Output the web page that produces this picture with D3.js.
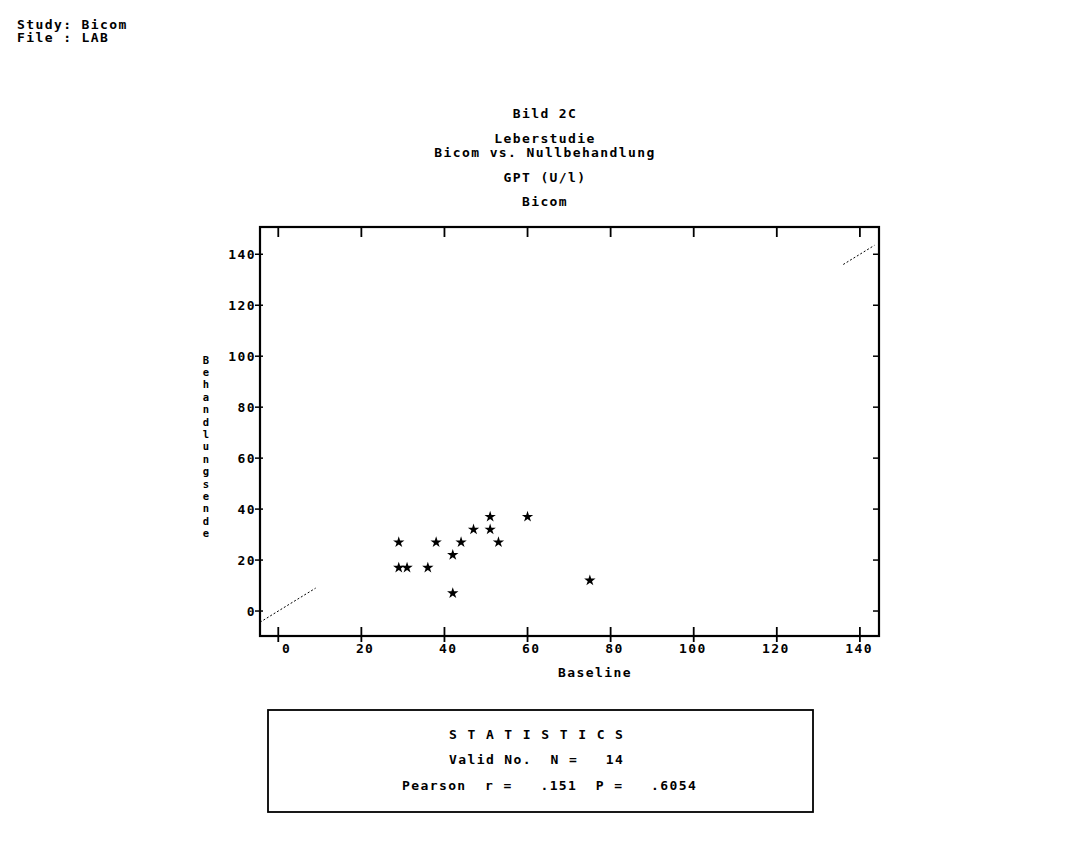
<!DOCTYPE html>
<html><head><meta charset="utf-8">
<script src="https://cdn.jsdelivr.net/npm/d3@7/dist/d3.min.js"></script>
<style>
html,body{margin:0;padding:0;background:#fff;}
svg text{font-family:"DejaVu Sans Mono",monospace;font-size:13px;letter-spacing:1.4px;fill:#000;white-space:pre;font-weight:bold;}
svg text.ylab{font-size:10.5px;letter-spacing:0;}
</style></head>
<body>
<svg id="c" width="1071" height="865"></svg>
<script>
// ---- data ----
const headerLines = ["Study: Bicom", "File : LAB"];
const titleLines = ["Bild 2C", "Leberstudie", "Bicom vs. Nullbehandlung", "GPT (U/l)", "Bicom"];
const xLabel = "Baseline";
const yLabel = "Behandlungsende";
const baseline = [29, 38, 44, 53, 51, 60, 47, 51, 42, 29, 31, 36, 42, 75];
const behandlungsende = [27, 27, 27, 27, 37, 37, 32, 32, 22, 17, 17, 17, 7, 12];
const xTicks = [0, 20, 40, 60, 80, 100, 120, 140];
const yTicks = [0, 20, 40, 60, 80, 100, 120, 140];
const identitySegments = [[-4.4, 9], [136, 143.5]];
const statsLines = ["S T A T I S T I C S", "Valid No.  N =   14", "Pearson  r =   .151  P =   .6054"];

// ---- layout ----
const svg = d3.select("#c");
const L = 260, R = 879, T = 227, B = 636;
const x = d3.scaleLinear().domain([-4.4, 144.6]).range([L, R]);
const y = d3.scaleLinear().domain([-9.8, 150.7]).range([B, T]);

// header
svg.selectAll("text.hdr").data(headerLines).join("text")
  .attr("class", "hdr").attr("x", 17).attr("y", (d, i) => 29 + i * 13).text(d => d);

// titles
const titleY = [118, 143, 157, 182, 206];
svg.selectAll("text.ttl").data(titleLines).join("text")
  .attr("class", "ttl").attr("x", 545).attr("y", (d, i) => titleY[i])
  .attr("text-anchor", "middle").text(d => d);

// frame
const g = svg.append("g");
g.append("rect").attr("x", L).attr("y", T).attr("width", R - L).attr("height", B - T)
  .attr("fill", "none").attr("stroke", "#000").attr("stroke-width", 2.2);

// bottom axis ticks
g.selectAll("line.xb").data(xTicks).join("line")
  .attr("x1", d => x(d)).attr("x2", d => x(d)).attr("y1", B - 9).attr("y2", B + 6)
  .attr("stroke", "#000").attr("stroke-width", 1.8);
// top axis ticks
g.selectAll("line.xt").data(xTicks).join("line")
  .attr("x1", d => x(d)).attr("x2", d => x(d)).attr("y1", T).attr("y2", T + 10)
  .attr("stroke", "#000").attr("stroke-width", 1.8);
// x labels (right-aligned slightly right of tick)
g.selectAll("text.xl").data(xTicks).join("text")
  .attr("x", d => x(d) + 13).attr("y", B + 17).attr("text-anchor", "end").text(d => d);

// left axis ticks
g.selectAll("line.yl").data(yTicks).join("line")
  .attr("x1", L - 5).attr("x2", L + 3).attr("y1", d => y(d)).attr("y2", d => y(d))
  .attr("stroke", "#000").attr("stroke-width", 1.5);
// right axis ticks
g.selectAll("line.yr").data(yTicks).join("line")
  .attr("x1", R - 6).attr("x2", R).attr("y1", d => y(d)).attr("y2", d => y(d))
  .attr("stroke", "#000").attr("stroke-width", 1.5);
g.selectAll("text.yt").data(yTicks).join("text")
  .attr("x", L - 4).attr("y", d => y(d) + 5).attr("text-anchor", "end").text(d => d);

// axis titles
svg.append("text").attr("x", 595).attr("y", 677).attr("text-anchor", "middle").text(xLabel);
const yl = svg.append("text").attr("class", "ylab").attr("text-anchor", "middle");
yl.selectAll("tspan").data(yLabel.split("")).join("tspan")
  .attr("x", 206).attr("y", (d, i) => 363.5 + i * 12.4).text(d => d);

// identity line segments
const line = d3.line().x(d => x(d)).y(d => y(d));
g.selectAll("path.id").data(identitySegments).join("path")
  .attr("d", d => line(d)).attr("fill", "none").attr("stroke", "#000")
  .attr("stroke-width", 1).attr("stroke-dasharray", "2,2");

// points
const pts = baseline.map((v, i) => [v, behandlungsende[i]]);
const star = d3.symbol().type(d3.symbolStar).size(40);
g.selectAll("path.pt").data(pts).join("path")
  .attr("transform", d => `translate(${x(d[0])},${y(d[1])})`)
  .attr("d", star).attr("fill", "#000");

// stats box
svg.append("rect").attr("x", 268).attr("y", 710).attr("width", 545).attr("height", 102)
  .attr("fill", "none").attr("stroke", "#000").attr("stroke-width", 1.8);
const statsX = [449, 449, 402];
const statsY = [739, 764, 790];
svg.selectAll("text.st").data(statsLines).join("text")
  .attr("x", (d, i) => statsX[i]).attr("y", (d, i) => statsY[i]).text(d => d);
</script>
</body></html>
